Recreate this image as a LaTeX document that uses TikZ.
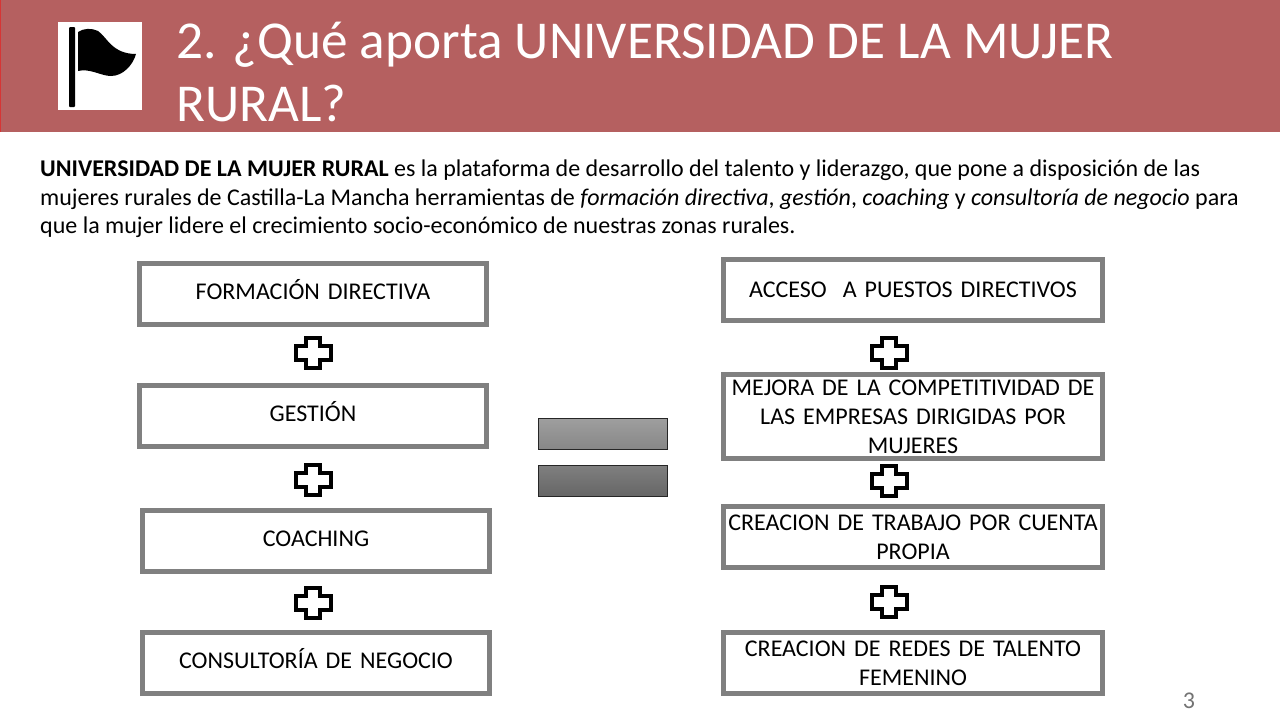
\documentclass[tikz,border=0pt]{standalone}
\usepackage{fontspec}
\setmainfont{Carlito}
\newfontfamily\boxfont[WordSpace=0.6]{Carlito}
\usetikzlibrary{positioning}
\definecolor{barred}{HTML}{B56060}
\definecolor{boxgray}{HTML}{808080}
\tikzset{
  databox/.style={draw=boxgray, line width=5pt, fill=white, align=center, inner sep=0pt, font=\boxfont\fontsize{24}{29}\selectfont},
  leftbox/.style={databox, minimum width=347pt, minimum height=61pt, text width=340pt, text height=16pt, text depth=5pt},
  rightbox/.style={databox, minimum width=379pt, minimum height=61pt, text width=372pt},
  eqbar/.style={draw=black!85, line width=1pt, minimum width=129pt, minimum height=31pt, inner sep=0pt},
  pics/plusmark/.style={code={
    \draw[black, line width=4pt, fill=white, line join=miter]
      (-7,-15) -- (7,-15) -- (7,-7) -- (17.5,-7) -- (17.5,7) -- (7,7) -- (7,15) -- (-7,15) -- (-7,7) -- (-17.5,7) -- (-17.5,-7) -- (-7,-7) -- cycle;
  }}
}
\begin{document}
\begin{tikzpicture}[x=1pt, y=-1pt, on grid]
  \useasboundingbox (0,0) rectangle (1280,720);
  \fill[white] (0,0) rectangle (1280,720);
  \fill[barred] (0,0) rectangle (1280,132);
  \fill[red!45!barred] (0,0) rectangle (1.2,132);
  \fill[white] (58,22) rectangle (142,110);
  \fill[black, rounded corners=1pt] (69,27) rectangle (75,107);
  \fill[black] (78,32) .. controls (84,28) and (92,28) .. (98,31)
    .. controls (107,37) and (112,54) .. (136,54)
    .. controls (133,65) and (123,76) .. (111,76)
    .. controls (101,76) and (90,68) .. (78,71) -- cycle;

  \node[anchor=west, text=white, align=left, inner sep=0pt, font=\fontsize{53.3}{63}\selectfont] (title) at (176,71.5)
    {2. ¿Qué aporta UNIVERSIDAD DE LA MUJER\\RURAL?};
  \node[anchor=west, align=left, inner sep=0pt, font=\fontsize{24}{28.7}\selectfont] (intro) at (40,199)
    {\textbf{UNIVERSIDAD DE LA MUJER RURAL} es la plataforma de desarrollo del talento y liderazgo, que pone a disposición de las\\
     mujeres rurales de Castilla-La Mancha herramientas de \textit{formación directiva}, \textit{gestión}, \textit{coaching} y \textit{consultoría de negocio} para\\
     que la mujer lidere el crecimiento socio-económico de nuestras zonas rurales.};

  \node[leftbox] (formacion) at (313,293.5) {FORMACIÓN DIRECTIVA};
  \node[leftbox, below=122.5pt of formacion] (gestion) {GESTIÓN};
  \node[leftbox, below=125pt of gestion, xshift=3pt] (coaching) {COACHING};
  \node[leftbox, below=122pt of coaching] (consultoria) {CONSULTORÍA DE NEGOCIO};

  \node[rightbox] (acceso) at (913,290) {ACCESO\ \ A PUESTOS DIRECTIVOS};
  \node[rightbox, minimum height=84pt, below=126.5pt of acceso] (mejora) {MEJORA DE LA COMPETITIVIDAD DE\\LAS EMPRESAS DIRIGIDAS POR\\MUJERES};
  \node[rightbox, below=120.5pt of mejora] (trabajo) {CREACION DE TRABAJO POR CUENTA\\PROPIA};
  \node[rightbox, below=126pt of trabajo] (redes) {CREACION DE REDES DE TALENTO\\FEMENINO};

  \node[eqbar, top color=black!38, bottom color=black!47] (igualA) at (603,434) {};
  \node[eqbar, top color=black!50, bottom color=black!60, below=46.5pt of igualA] (igualB) {};

  \foreach \px/\py in {313/353, 313/480, 313/603, 889/353, 889/481, 889/602}
    \pic at (\px,\py) {plusmark};

  \node[text=black!55, font=\fontsize{24}{24}\selectfont] (pagina) at (1189,701) {3};
\end{tikzpicture}
\end{document}
